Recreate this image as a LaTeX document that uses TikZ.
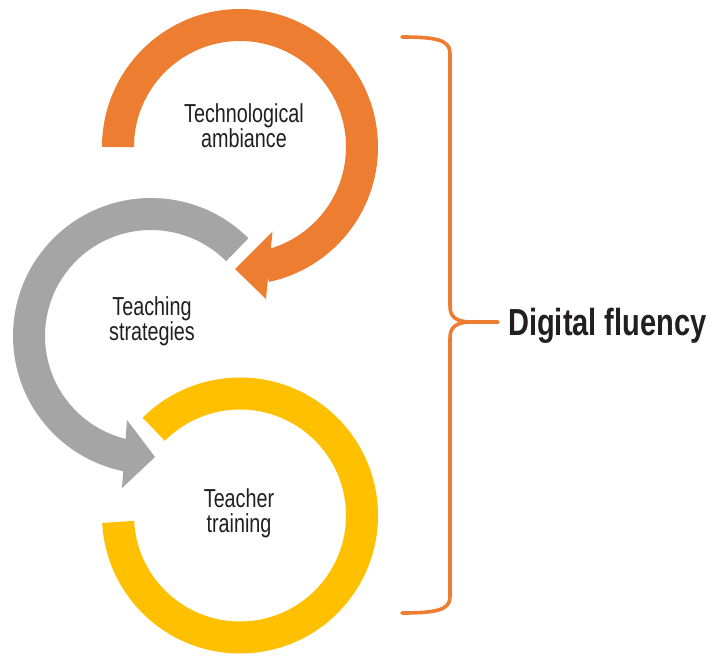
\documentclass[tikz,border=0pt]{standalone}
\usepackage{fontspec}
\newfontfamily\labelfont[FakeStretch=0.76]{Liberation Sans}
\newfontfamily\titlefont[FakeStretch=0.77]{Liberation Sans}
\usetikzlibrary{calc}
\definecolor{orangec}{HTML}{ED7D31}
\definecolor{grayc}{HTML}{A5A5A5}
\definecolor{yellowc}{HTML}{FFC000}
\definecolor{textc}{HTML}{231F20}
\begin{document}
\begin{tikzpicture}[x=1pt,y=1pt,
  ring/.style={line width=32pt},
  lbl/.style={font=\labelfont\fontsize{26}{25.4}\selectfont, text=textc, align=center, inner sep=0pt, anchor=base},
  bracestyle/.style={draw=orangec, line width=3.6pt, line cap=round, line join=round},
]
\fill[white] (0,0) rectangle (713,-658);
\useasboundingbox (0,0) rectangle (713,-658);

% centres
\coordinate (O) at (240,-147);
\coordinate (G) at (151,-336);
\coordinate (Y) at (240,-515.5);

% orange ring with arrow
\draw[ring, orangec] (O) ++(180:122) arc[start angle=180, end angle=-78, radius=122];
\fill[orangec] (272.5,-231.5) -- (266,-299) -- (235,-269) -- cycle;

% gray ring with arrow
\draw[ring, grayc] (G) ++(45:122) arc[start angle=45, end angle=259, radius=122];
\fill[grayc] (127,-420) -- (122,-488) -- (155,-457) -- cycle;

% yellow ring
\draw[ring, yellowc] (Y) ++(183:122) arc[start angle=183, end angle=495, radius=122];

% labels (anchor = baseline of the last line)
\node[lbl] (tech) at (244,-147.7) {Technological\\ambiance};
\node[lbl] (teach) at (152,-340.4) {Teaching\\strategies};
\node[lbl] (train) at (239,-532.4) {Teacher\\training};

% brace
\coordinate (tip) at (498,-322);
\draw[bracestyle] (402,-37) .. controls (436,-37) and (450,-40) .. (450,-53)
  -- (450,-306) .. controls (450,-317) and (456,-322) .. (472,-322) -- (tip);
\draw[bracestyle] (472,-322) .. controls (456,-322) and (450,-327) .. (450,-338)
  -- (450,-597) .. controls (450,-610) and (436,-613) .. (402,-613);

\node[font=\titlefont\bfseries\fontsize{37.7}{40}\selectfont, text=textc, inner sep=0pt, anchor=base west] (dig) at (508,-335) {Digital fluency};
\end{tikzpicture}
\end{document}
